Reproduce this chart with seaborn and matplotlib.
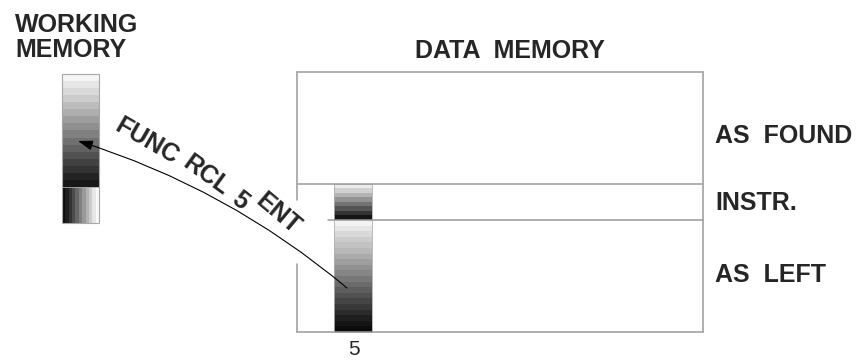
import numpy as np
import matplotlib.pyplot as plt
import seaborn as sns
from matplotlib.patches import FancyArrowPatch, Rectangle

sns.set_style('white')
plt.rcParams['font.family'] = ['Liberation Sans', 'DejaVu Sans']

# gray levels of the stepped bars, 0 = black, 1 = white
wm_upper = [0.96, 0.90, 0.85, 0.80, 0.74, 0.68, 0.62, 0.56, 0.50,
            0.44, 0.38, 0.32, 0.26, 0.20, 0.14, 0.09]
wm_lower = [0.05, 0.12, 0.20, 0.30, 0.40, 0.50, 0.60, 0.70, 0.80, 0.90, 0.97]
instr_col = [0.92, 0.82, 0.70, 0.58, 0.45, 0.33, 0.20, 0.08]
left_col = [0.95, 0.90, 0.85, 0.80, 0.76, 0.72, 0.67, 0.62, 0.57, 0.52,
            0.47, 0.42, 0.37, 0.32, 0.27, 0.22, 0.17, 0.12, 0.08, 0.05]

labels = ['WORKING', 'MEMORY', 'DATA  MEMORY', 'AS  FOUND', 'INSTR.', 'AS  LEFT']
label_x = [15, 15, 510, 715, 715, 715]
label_y = [32, 57, 58, 143, 210, 282]
label_ha = ['left', 'left', 'center', 'left', 'left', 'left']

keys = ['FUNC', 'RCL', '5', 'ENT']
key_x = [147, 206, 240, 278]
key_y = [141, 175, 201, 214]
key_rot = [-30, -36, -38, -40]

register = '5'

# layout in pixels (y down)
box = (297, 703, 72, 332)
row_y = [184, 220]
wm = (62, 99, 74, 187, 223)
col = (334, 372)


def steps(ax, levels, x0, x1, y0, y1, horizontal=False):
    a = np.array(levels)
    a = a[None, :] if horizontal else a[:, None]
    ax.imshow(a, cmap='gray', vmin=0, vmax=1, extent=[x0, x1, y1, y0],
              aspect='auto', interpolation='nearest')


fig = plt.figure(figsize=(8.56, 3.6), dpi=100)
ax = fig.add_axes([0, 0, 1, 1])

# data memory frame
gc = '#9a9a9a'
x0, x1, y0, y1 = box
ax.plot([x0, x1], [y0, y0], color=gc, lw=1.1)
ax.plot([x0, x1], [y1, y1], color=gc, lw=1.1)
ax.plot([x1, x1], [y0, y1], color=gc, lw=1.1)
ax.plot([x0, x0], [y0, 200], color=gc, lw=1.1)
ax.plot([x0, x0], [264, y1], color=gc, lw=1.1)
ax.plot([x0, x1], [row_y[0], row_y[0]], color=gc, lw=1.1)
ax.plot([328, x1], [row_y[1], row_y[1]], color=gc, lw=1.1)

# working memory register
steps(ax, wm_upper, wm[0], wm[1], wm[2], wm[3])
steps(ax, wm_lower, wm[0], wm[1], wm[3], wm[4], horizontal=True)
ax.add_patch(Rectangle((wm[0], wm[2]), wm[1] - wm[0], wm[4] - wm[2],
                       fill=False, ec='#a8a8a8', lw=0.8))
ax.plot([wm[0], wm[1]], [wm[3], wm[3]], color='#a8a8a8', lw=0.6)

# data register 5
steps(ax, instr_col, col[0], col[1], row_y[0], row_y[1])
steps(ax, left_col, col[0], col[1], row_y[1], y1)
ax.add_patch(Rectangle((col[0], row_y[0]), col[1] - col[0], y1 - row_y[0],
                       fill=False, ec='#b0b0b0', lw=0.6))
ax.text((col[0] + col[1]) / 2 + 1, 355, register, ha='center', va='baseline',
        fontsize=15)

for s, x, y, ha in zip(labels, label_x, label_y, label_ha):
    ax.text(x, y, s, ha=ha, va='baseline', fontsize=18, fontweight='bold')

# recall arrow
arr = FancyArrowPatch(posA=(347, 288), posB=(78, 141),
                      connectionstyle='arc3,rad=0.1',
                      arrowstyle='-|>,head_length=0.6,head_width=0.2',
                      mutation_scale=15, lw=0.8, color='black',
                      shrinkA=0, shrinkB=0)
ax.add_patch(arr)
for s, x, y, r in zip(keys, key_x, key_y, key_rot):
    ax.text(x, y, s, rotation=r, rotation_mode='anchor', ha='center',
            va='center', fontsize=18, fontweight='bold')

ax.set_xlim(0, 856)
ax.set_ylim(360, 0)
ax.axis('off')
plt.savefig('out.png', dpi=100)
plt.close()
